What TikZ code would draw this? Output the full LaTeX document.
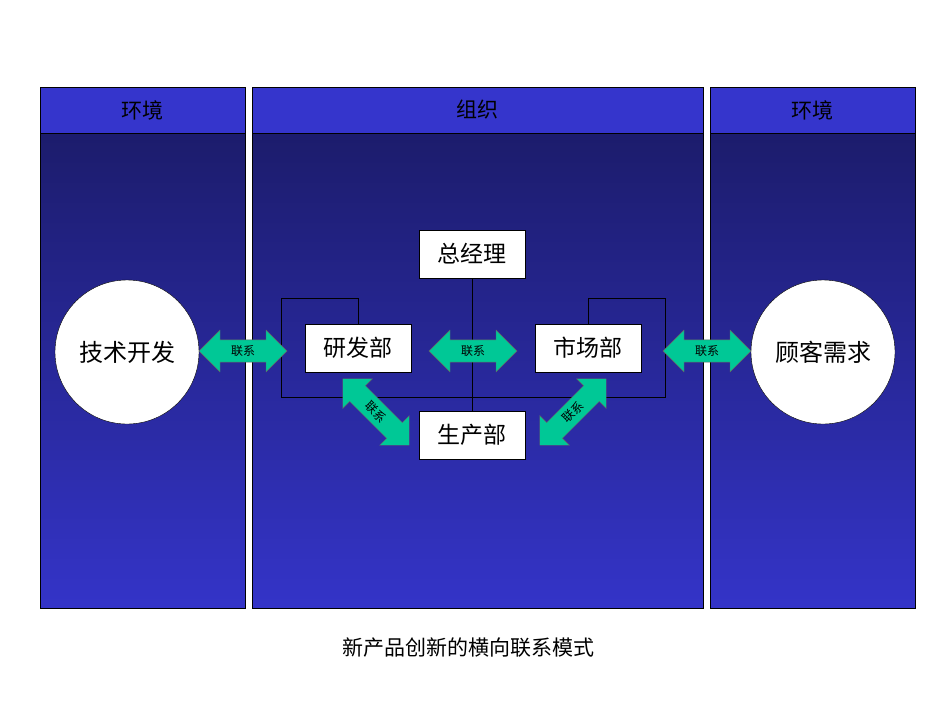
\documentclass[tikz,border=0pt]{standalone}
\usepackage{fontspec}
\newfontfamily\cjk{Noto Sans CJK SC}
\usetikzlibrary{shapes.arrows}
\definecolor{headblue}{HTML}{3535CC}
\definecolor{topblue}{HTML}{1C1C6C}
\definecolor{botblue}{HTML}{3434C8}
\definecolor{linkgreen}{HTML}{00C896}
\pgfdeclarelayer{back}
\pgfsetlayers{back,main}
\tikzset{
  panel/.style={draw=black, top color=topblue, bottom color=botblue},
  head/.style={draw=black, fill=headblue},
  dept/.style={draw=black, fill=white, minimum width=106pt, minimum height=48pt, font=\cjk\fontsize{23}{25}\selectfont},
  envir/.style={circle, draw=black, fill=white, minimum size=144pt, font=\cjk\fontsize{24}{26}\selectfont},
  link/.style={double arrow, draw=black!60, fill=linkgreen, minimum height=88pt, minimum width=42pt,
    double arrow head extend=6pt, inner sep=1pt, font=\cjk\fontsize{12}{13}\selectfont},
  wire/.style={draw=black, line width=0.8pt}
}
\begin{document}
\begin{tikzpicture}[x=1pt, y=-1pt]
  \useasboundingbox (0,0) rectangle (950,713);
  % nodes
  \node[dept] (gm) at (472,254) {总经理};
  \node[dept] (rd) at (358,348) {研发部};
  \node[dept] (mk) at (588,348) {市场部};
  \node[dept] (pd) at (472,435) {生产部};
  \node[envir] (tech) at (127,352) {技术开发};
  \node[envir] (cust) at (823,352) {顾客需求};
  \begin{pgfonlayer}{back}
    \fill[white] (0,0) rectangle (950,713);
    % panels
    \foreach \xa/\xb/\name in {40/245/环境, 252/703/组织, 710/915/环境}{
      \path[panel] (\xa,133) rectangle (\xb,608);
      \path[head] (\xa,87) rectangle (\xb,133);
      \node[font=\cjk\fontsize{21}{23}\selectfont] at ({(\xa+\xb)/2},110) {\name};
    }
    % wires
    \coordinate (lt) at (281,298);
    \coordinate (lb) at (281,397);
    \coordinate (rt) at (665,298);
    \coordinate (rb) at (665,397);
    \draw[wire] (rd.north) |- (lt) -- (lb) -- (rb) -- (rt) -| (mk.north);
    \draw[wire] (gm.south) -- (pd.north);
  \end{pgfonlayer}
  % links
  \node[link] (l1) at (243,351) {联系};
  \node[link] (l2) at (473,351) {联系};
  \node[link] (l3) at (707,351) {联系};
  \node[link, rotate=-45, minimum height=94pt] (l4) at (376,412) {联系};
  \node[link, rotate=45, minimum height=94pt] (l5) at (573,412) {联系};
  % caption
  \node[font=\cjk\fontsize{21}{23}\selectfont] (cap) at (468,648) {新产品创新的横向联系模式};
\end{tikzpicture}
\end{document}
